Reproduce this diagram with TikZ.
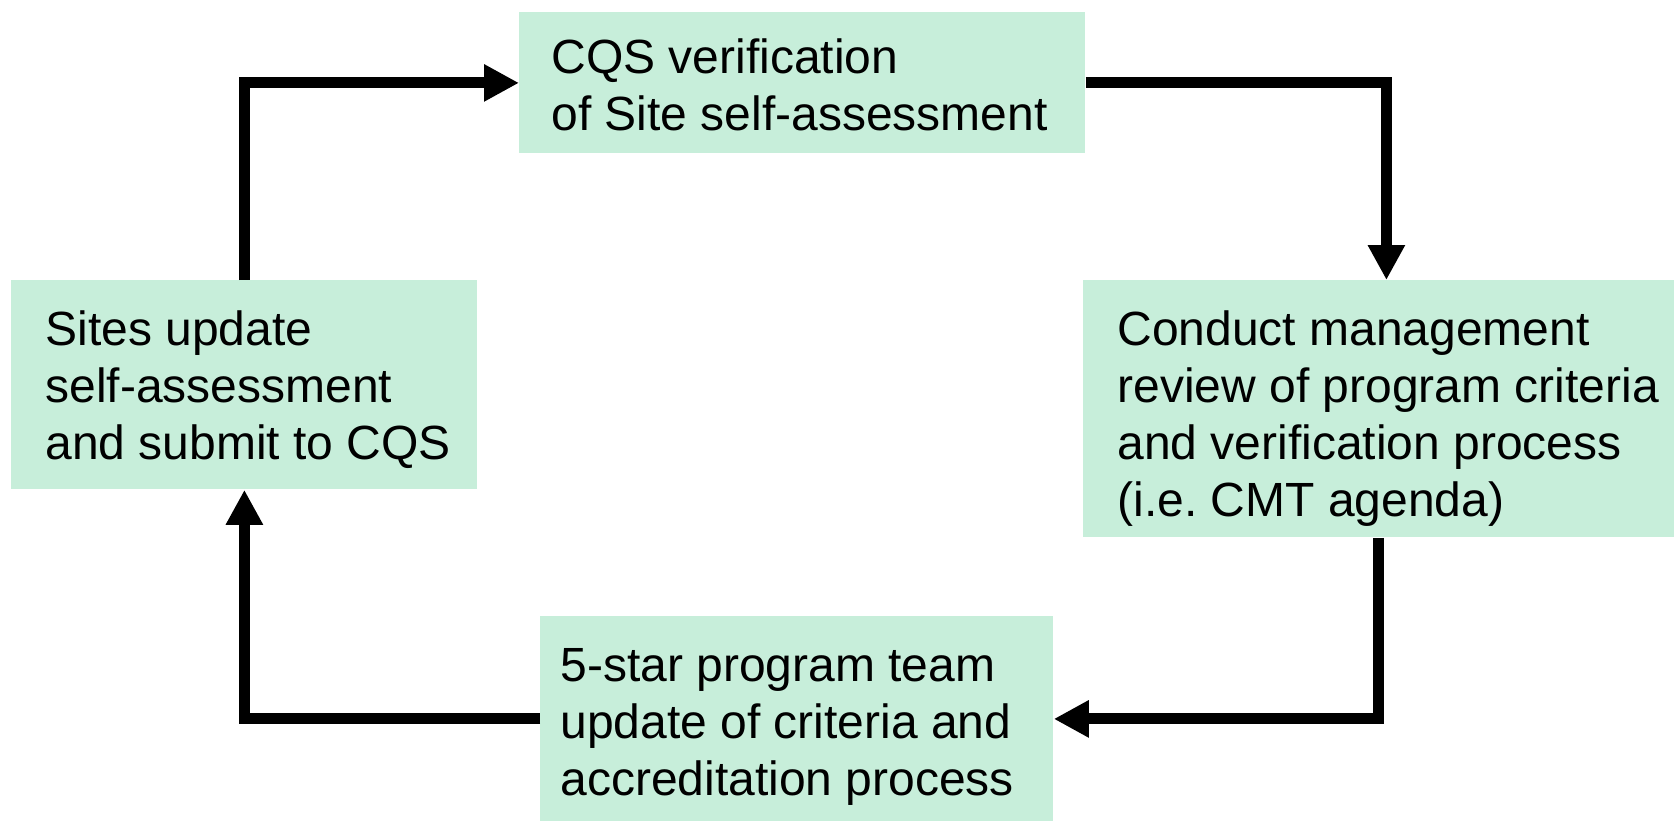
\documentclass[tikz,border=0pt]{standalone}
\usepackage{fontspec}
\setmainfont{Liberation Sans}
\usetikzlibrary{arrows.meta}

\definecolor{stagegreen}{RGB}{199,238,218}

% box text: [first baseline], height, width, left padding, lines
\newcommand{\stagetext}[5][32.5pt]{%
  \parbox[c][#2][t]{#3}{\raggedright\leftskip=#4\relax\rule{0pt}{#1}#5}}

\begin{document}
\begin{tikzpicture}[x=0.5pt, y=-0.5pt, line join=miter,
    stage/.style={fill=stagegreen, inner sep=0pt, anchor=north west,
      font=\fontsize{24pt}{28.5pt}\selectfont},
    flow/.style={line width=5.5pt, -{Triangle[length=17.5pt, width=17.5pt]}}]
  \useasboundingbox (0,0) rectangle (1674,821);

  % the four stages of the cycle
  \node[stage] (verif) at (519,12)
    {\stagetext[30.5pt]{70.5pt}{283pt}{16pt}{CQS verification\\of Site self-assessment}};
  \node[stage] (sites) at (11,280)
    {\stagetext{104.5pt}{233pt}{17pt}{Sites update\\self-assessment\\and submit to CQS}};
  \node[stage] (review) at (1083,280)
    {\stagetext{128.5pt}{295.5pt}{17pt}{Conduct management\\review of program criteria\\and verification process\\(i.e.\ CMT agenda)}};
  \node[stage] (team) at (540,616)
    {\stagetext{102.5pt}{256.5pt}{10pt}{5-star program team\\update of criteria and\\accreditation process}};

  % arrows round the cycle
  \draw[flow] (sites.north) |- (verif.west);
  \draw[flow] (verif.east) -| ([xshift=3.75pt]review.north);
  \draw[flow] (review.south) |- (team.east);
  \draw[flow] (team.west) -| (sites.south);
\end{tikzpicture}
\end{document}
